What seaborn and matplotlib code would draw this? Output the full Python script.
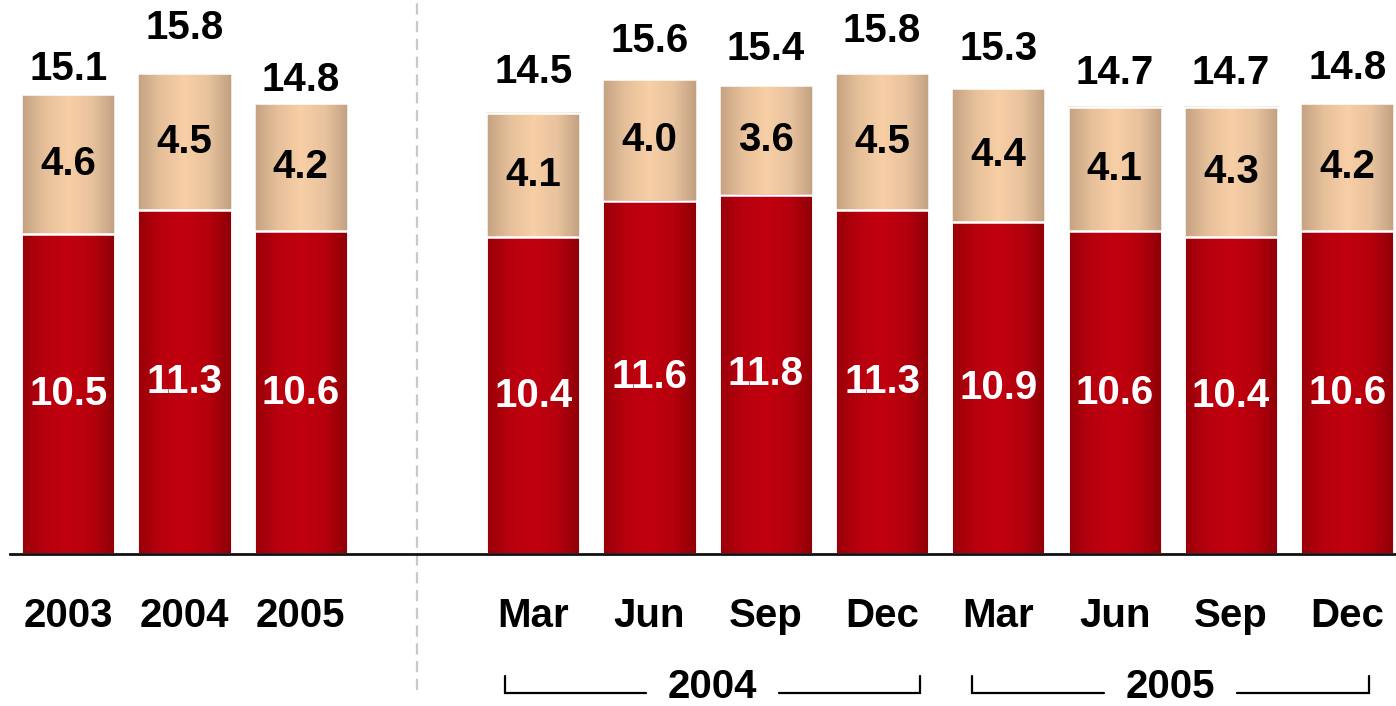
import numpy as np
import pandas as pd
import matplotlib
matplotlib.use("Agg")
import matplotlib.pyplot as plt
import matplotlib.transforms as mtransforms
from matplotlib.colors import LinearSegmentedColormap
import seaborn as sns

# ---- data ----
keys = ["2003", "2004", "2005",
        "Mar 2004", "Jun 2004", "Sep 2004", "Dec 2004",
        "Mar 2005", "Jun 2005", "Sep 2005", "Dec 2005"]
tick_labels = ["2003", "2004", "2005",
               "Mar", "Jun", "Sep", "Dec",
               "Mar", "Jun", "Sep", "Dec"]
bottom_vals = [10.5, 11.3, 10.6, 10.4, 11.6, 11.8, 11.3, 10.9, 10.6, 10.4, 10.6]
top_vals = [4.6, 4.5, 4.2, 4.1, 4.0, 3.6, 4.5, 4.4, 4.1, 4.3, 4.2]
totals = [15.1, 15.8, 14.8, 14.5, 15.6, 15.4, 15.8, 15.3, 14.7, 14.7, 14.8]
group_years = ["2004", "2005"]
group_members = [["Mar 2004", "Dec 2004"], ["Mar 2005", "Dec 2005"]]

# style: gap (px) between bar top and baseline of each total label
label_lift_px = [14, 34, 12, 30, 27, 25, 31, 28, 23, 23, 24]

spacer = " "
order = keys[:3] + [spacer] + keys[3:]

df = pd.DataFrame({"key": keys, "bottom": bottom_vals, "top": top_vals, "total": totals})

sns.set_theme(style="white")
plt.rcParams["font.family"] = ["Liberation Sans", "DejaVu Sans"]

FS = 29

fig = plt.figure(figsize=(13.96, 7.06), dpi=100)
ax = fig.add_axes([10 / 1396, 152 / 706, 1386 / 1396, 554 / 706])

BW = 0.81
sns.barplot(data=df, x="key", y="total", order=order, color="#f8cfa6",
            width=BW, ax=ax, edgecolor="white", linewidth=1.8, zorder=3)
n_tan = len(ax.patches)
sns.barplot(data=df, x="key", y="bottom", order=order, color="#c2000f",
            width=BW, ax=ax, edgecolor="white", linewidth=1.8, zorder=3)

tan_cmap = LinearSegmentedColormap.from_list(
    "tan", ["#c2a081", "#e6c09a", "#f8cfa6", "#e8c39e", "#c09f80"])
red_cmap = LinearSegmentedColormap.from_list(
    "red", ["#960008", "#b8000e", "#c2000f", "#b5000d", "#8c0006"])
grad = np.linspace(0, 1, 256).reshape(1, -1)

patches = list(ax.patches)
for i, p in enumerate(patches):
    h = p.get_height()
    if not np.isfinite(h) or h == 0:
        continue
    x0, y0 = p.get_x(), p.get_y()
    w = p.get_width()
    cmap = tan_cmap if i < n_tan else red_cmap
    z = 1 if i < n_tan else 2
    ax.imshow(grad, cmap=cmap, aspect="auto", extent=[x0, x0 + w, y0, y0 + h],
              zorder=z, interpolation="bicubic")
    p.set_facecolor("none")

# labels
pos = {k: order.index(k) for k in keys}
for k, b, t, tot, lift in zip(keys, bottom_vals, top_vals, totals, label_lift_px):
    x = pos[k]
    ax.text(x, b / 2, f"{b:.1f}", ha="center", va="center", color="white",
            fontsize=FS, fontweight="bold", zorder=5)
    ax.text(x, b + t / 2, f"{t:.1f}", ha="center", va="center", color="black",
            fontsize=FS, fontweight="bold", zorder=5)
    ax.annotate(f"{tot:.1f}", (x, tot), xytext=(0, lift * 0.72),
                textcoords="offset points", ha="center", va="baseline",
                color="black", fontsize=FS, fontweight="bold", zorder=5)

ax.set_xlim(-0.5, 11.42)
ax.set_ylim(0, 18.2)
ax.set_xticks([pos[k] for k in keys])
ax.set_xticklabels(tick_labels, fontsize=FS, fontweight="bold", color="black")
ax.tick_params(axis="x", length=0, pad=31)
ax.set_yticks([])
ax.set_xlabel("")
ax.set_ylabel("")
for s in ["top", "left", "right"]:
    ax.spines[s].set_visible(False)
ax.spines["bottom"].set_color("#111111")
ax.spines["bottom"].set_linewidth(2)
ax.spines["bottom"].set_zorder(6)

# dashed separator
sep_x = order.index(spacer)
ax.axvline(sep_x, ymin=-0.245, ymax=1.0, color="#c8c8c8", linestyle=(0, (5, 3)),
           linewidth=1.6, clip_on=False, zorder=0)

# year brackets
trans = mtransforms.blended_transform_factory(ax.transData, ax.transAxes)
y_line = -0.250
y_tick = -0.220
y_text = -0.240
half_gap = 0.575
offsets = [(-0.246, 0.33), (-0.23, 0.19)]
for year, (first, last), (lo, ro) in zip(group_years, group_members, offsets):
    left = pos[first] + lo
    right = pos[last] + ro
    mid = (left + right) / 2
    ax.plot([left, left, mid - half_gap], [y_tick, y_line, y_line], color="black",
            lw=1.6, transform=trans, clip_on=False, solid_joinstyle="miter")
    ax.plot([mid + half_gap, right, right], [y_line, y_line, y_tick], color="black",
            lw=1.6, transform=trans, clip_on=False, solid_joinstyle="miter")
    ax.text(mid, y_text, year, transform=trans, ha="center", va="center",
            fontsize=FS, fontweight="bold", color="black")

fig.savefig("out.png", dpi=100, facecolor="white")
